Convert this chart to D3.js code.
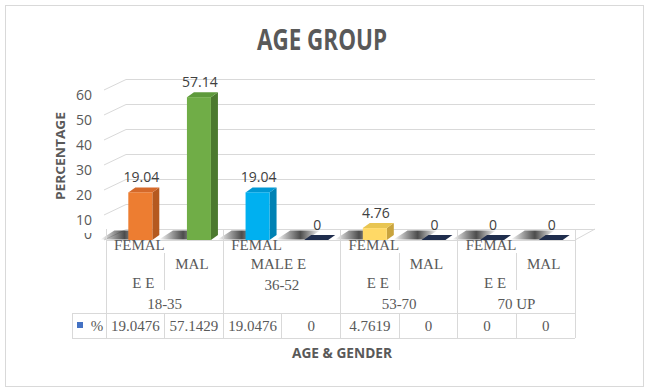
<!DOCTYPE html>
<html><head><meta charset="utf-8">
<script src="https://cdn.jsdelivr.net/npm/d3@7"></script>
<style>body{margin:0;background:#fff}svg{display:block}</style>
</head><body>
<svg id="c" width="648" height="392"></svg>
<script>
// ---- data ----
const categories = ["FEMALE","MALE","FEMALE","MALE","FEMALE","MALE","FEMALE","MALE"];
const groups = ["18-35","36-52","53-70","70 UP"];
const values = [19.0476, 57.1429, 19.0476, 0, 4.7619, 0, 0, 0];
const dataLabels = ["19.04","57.14","19.04","0","4.76","0","0","0"];
const tableLabels = ["19.0476","57.1429","19.0476","0","4.7619","0","0","0"];
const yTicks = [0,10,20,30,40,50,60];
const barColors = ["#ED7D31","#70AD47","#00B0F0","#1F2D4D","#FFD966","#1F2D4D","#1F2D4D","#1F2D4D"];
const sideColors = ["#B5591F","#4C7A2F","#0082B4","#1F2D4D","#C9A43E","#1F2D4D","#1F2D4D","#1F2D4D"];
const topColors = ["#D5692A","#5E9A3B","#0098D4","#1F2D4D","#E8C552","#1F2D4D","#1F2D4D","#1F2D4D"];
// wrapped category label lines as shown
const catLines = [["FEMAL","E E"],["MAL"],["FEMAL"],[],["FEMAL","E E"],["MAL"],["FEMAL","E E"],["MAL"]];

const svg = d3.select("#c");
const gray = "#595959";
const DX = 20, DY = -11;     // depth of floor / back wall
const BW = 24, SD = 7, SDY = -5; // bar front width, side depth

const x = d3.scaleBand().domain(d3.range(categories.length)).range([106, 575]).padding(0);
const y = d3.scaleLinear().domain([0, 60]).range([240, 90]);
const gx = d3.scaleBand().domain(groups).range([106, 575]);

// border
svg.append("rect").attr("x",5.5).attr("y",5.5).attr("width",638).attr("height",381)
  .attr("fill","#fff").attr("stroke","#D9D9D9");

// title
svg.append("text").attr("x",322).attr("y",50).attr("text-anchor","middle")
  .attr("font-family","Open Sans").attr("font-weight","bold").attr("font-size",29)
  .attr("textLength",130).attr("lengthAdjust","spacingAndGlyphs")
  .attr("fill",gray).text("AGE GROUP");

// back wall gridlines + diagonal side lines
const grid = svg.append("g").attr("stroke","#D9D9D9").attr("stroke-width",1);
yTicks.forEach(t => {
  const yb = Math.round(y(t)+DY)+0.5;
  grid.append("line").attr("x1",106+DX).attr("x2",595).attr("y1",yb).attr("y2",yb);
  grid.append("line").attr("x1",104).attr("y1",y(t)).attr("x2",106+DX).attr("y2",yb);
});
// floor
grid.append("line").attr("x1",106).attr("x2",575).attr("y1",240.5).attr("y2",240.5);
grid.append("line").attr("x1",575).attr("y1",240).attr("x2",595).attr("y2",229);

// y axis labels (the zero label is partly hidden by the floor)
const defs = svg.append("defs");
defs.append("clipPath").attr("id","zc").append("rect")
  .attr("x",60).attr("y",233).attr("width",40).attr("height",7);
const yAxis = d3.axisLeft(y).tickValues(yTicks).tickSize(0).tickPadding(0);
const ya = svg.append("g").attr("transform","translate(92,5)").call(yAxis);
ya.select(".domain").remove();
ya.selectAll("text").attr("font-family","Open Sans").attr("font-size",14).attr("fill",gray);
ya.selectAll(".tick").filter(d => d === 0).remove();
svg.append("text").attr("x",92).attr("y",y(0)-1.5).attr("text-anchor","end")
  .attr("clip-path","url(#zc)").attr("font-family","Open Sans").attr("font-size",14)
  .attr("fill",gray).text(yTicks[0]);

// shadows
const lg = defs.append("linearGradient").attr("id","sh").attr("x1",0).attr("x2",1).attr("y1",0).attr("y2",0);
lg.append("stop").attr("offset",0).attr("stop-color","#000").attr("stop-opacity",0);
lg.append("stop").attr("offset",0.55).attr("stop-color","#111").attr("stop-opacity",0.75);
lg.append("stop").attr("offset",1).attr("stop-color","#000").attr("stop-opacity",0);
const bx = i => x(i) + x.bandwidth()/2 + 5 - BW/2;
svg.append("g").selectAll("path").data(values).join("path")
  .attr("d",(d,i)=>{const l=bx(i);return `M${l-28},239.5L${l+2},239.5L${l+16},230.5L${l-14},230.5Z`;})
  .attr("fill","url(#sh)");

// bars
const bars = svg.append("g").selectAll("g").data(values).join("g");
bars.append("path").attr("d",(d,i)=>{const l=bx(i),t=y(d),b=y(0);
  return `M${l+BW},${t}L${l+BW+SD},${t+SDY}L${l+BW+SD},${b+SDY}L${l+BW},${b}Z`;})
  .attr("fill",(d,i)=>sideColors[i]);
bars.append("path").attr("d",(d,i)=>{const l=bx(i),t=y(d);
  return `M${l},${t}L${l+SD},${t+SDY}L${l+BW+SD},${t+SDY}L${l+BW},${t}Z`;})
  .attr("fill",(d,i)=>topColors[i]);
bars.append("rect").attr("x",(d,i)=>bx(i)).attr("y",d=>y(d)).attr("width",BW)
  .attr("height",d=>y(0)-y(d)).attr("fill",(d,i)=>barColors[i]);

// data labels
svg.append("g").selectAll("text").data(values).join("text")
  .attr("x",(d,i)=>bx(i)+BW/2+1).attr("y",d=>y(d)-10).attr("text-anchor","middle")
  .attr("font-family","Open Sans").attr("font-size",14).attr("fill","#404040")
  .text((d,i)=>dataLabels[i]);

// table lines
const tl = svg.append("g").attr("stroke","#D9D9D9").attr("stroke-width",1).attr("shape-rendering","crispEdges");
groups.forEach(g => {
  tl.append("line").attr("x1",gx(g)).attr("x2",gx(g)).attr("y1",229).attr("y2",338);
});
tl.append("line").attr("x1",575).attr("x2",575).attr("y1",229).attr("y2",338);
[0,2,3].forEach(k => { const xx = x(2*k+1);
  tl.append("line").attr("x1",xx).attr("x2",xx).attr("y1",253).attr("y2",290); });
d3.range(categories.length).forEach(i => { const xx = x(i);
  tl.append("line").attr("x1",xx).attr("x2",xx).attr("y1",313).attr("y2",338); });
tl.append("line").attr("x1",72).attr("x2",575).attr("y1",313).attr("y2",313);
tl.append("line").attr("x1",72).attr("x2",575).attr("y1",338).attr("y2",338);
tl.append("line").attr("x1",72).attr("x2",72).attr("y1",313).attr("y2",338);

// category labels (serif)
const serif = {"font-family":"Liberation Serif","font-size":15,"fill":gray};
const lab = svg.append("g");
function st(sel){Object.entries(serif).forEach(([k,v])=>sel.attr(k,v));return sel;}
categories.forEach((c,i) => {
  const cx = x(i) + x.bandwidth()/2;
  const lines = catLines[i];
  if (c === "FEMALE") {
    if (lines[0]) st(lab.append("text")).attr("x",cx+4).attr("y",250).attr("text-anchor","middle").text(lines[0]);
    if (lines[1]) st(lab.append("text")).attr("x",cx+8).attr("y",288).attr("text-anchor","middle").text(lines[1]);
  } else {
    if (lines[0]) st(lab.append("text")).attr("x",cx-2).attr("y",269).attr("text-anchor","middle").text(lines[0]);
  }
});
// 36-52 overlapped label
st(lab.append("text")).attr("x",gx("36-52")+gx.bandwidth()/2-3.5).attr("y",269).attr("text-anchor","middle").text("MALE E");
groups.forEach((g,k) => {
  st(lab.append("text")).attr("x",gx(g)+gx.bandwidth()/2).attr("y",g==="36-52"?290:309)
    .attr("text-anchor","middle").text(g);
});
// value row
tableLabels.forEach((t,i) => {
  st(lab.append("text")).attr("x",x(i)+x.bandwidth()/2).attr("y",331).attr("text-anchor","middle").text(t);
});
svg.append("rect").attr("x",77).attr("y",322).attr("width",6).attr("height",6).attr("fill","#4472C4");
st(lab.append("text")).attr("x",97).attr("y",331).attr("text-anchor","middle").text("%");

// axis titles
svg.append("text").attr("transform","translate(65,156) rotate(-90)").attr("text-anchor","middle")
  .attr("font-family","Open Sans").attr("font-weight","bold").attr("font-size",13)
  .attr("textLength",88).attr("lengthAdjust","spacingAndGlyphs").attr("fill",gray).text("PERCENTAGE");
svg.append("text").attr("x",342).attr("y",358).attr("text-anchor","middle")
  .attr("font-family","Open Sans").attr("font-weight","bold").attr("font-size",14)
  .attr("textLength",100).attr("lengthAdjust","spacingAndGlyphs").attr("fill",gray).text("AGE & GENDER");
</script>
</body></html>
